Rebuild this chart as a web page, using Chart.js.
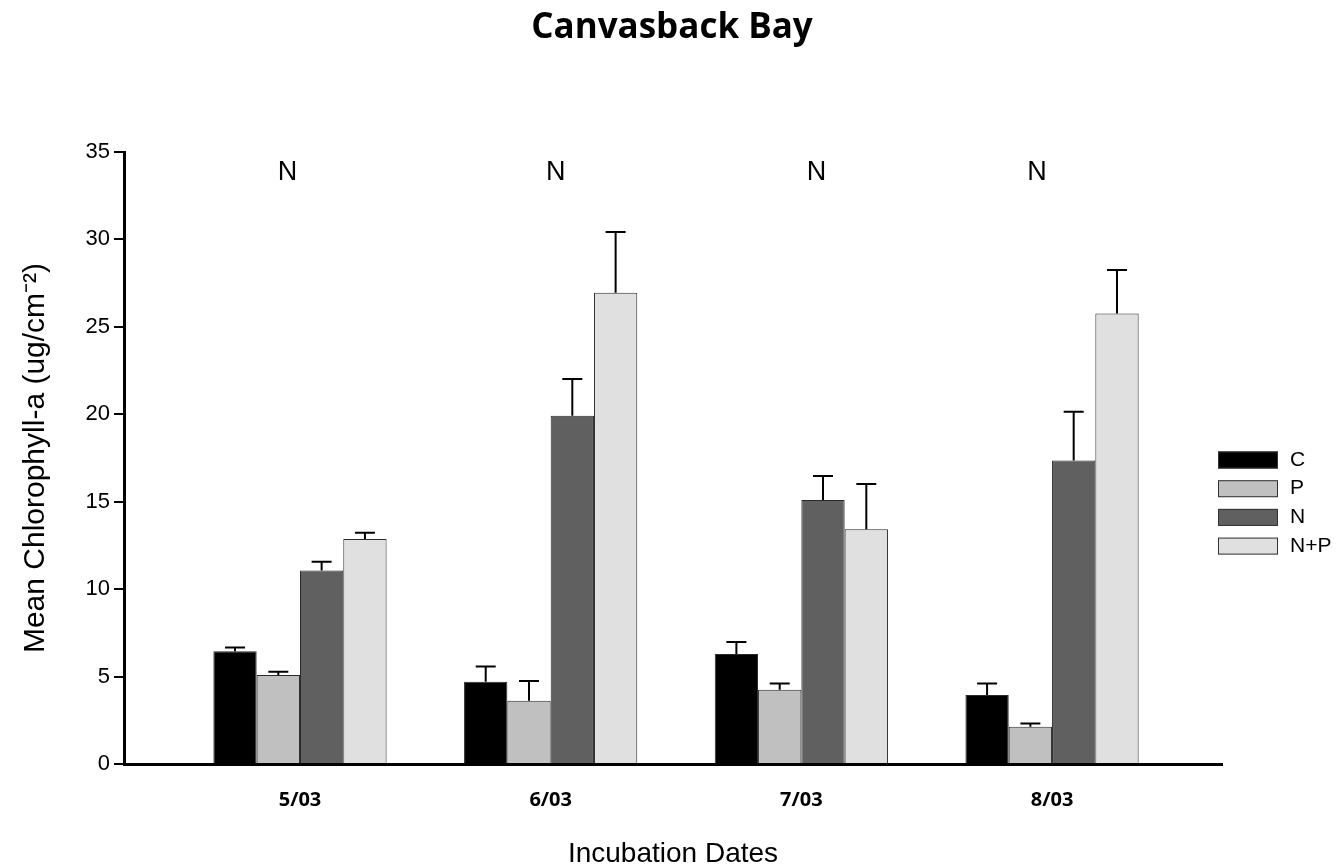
<!DOCTYPE html>
<html>
<head>
<meta charset="utf-8">
<script src="https://cdn.jsdelivr.net/npm/chart.js@4/dist/chart.umd.min.js"></script>
<style>
html,body{margin:0;padding:0;background:#fff;}
#wrap{width:1344px;height:868px;}
</style>
</head>
<body>
<div id="wrap"><canvas id="c" width="1344" height="868"></canvas></div>
<script>
// ---- data ----
const categories = ['5/03', '6/03', '7/03', '8/03'];
const seriesNames = ['C', 'P', 'N', 'N+P'];
const valuesC  = [6.45, 4.71, 6.29, 3.95];
const valuesP  = [5.09, 3.62, 4.25, 2.13];
const valuesN  = [11.06, 19.92, 15.10, 17.35];
const valuesNP = [12.87, 26.95, 13.42, 25.77];
const errC  = [0.21, 0.86, 0.69, 0.66];
const errP  = [0.19, 1.13, 0.36, 0.19];
const errN  = [0.50, 2.10, 1.37, 2.79];
const errNP = [0.35, 3.47, 2.59, 2.48];
const yTicks = [0, 5, 10, 15, 20, 25, 30, 35];
const sigLabels = ['N', 'N', 'N', 'N'];
const sigX = [-0.05, 1.02, 2.06, 2.94];
const sigY = 33.85;

const colors = ['#000000', '#c0c0c0', '#606060', '#e0e0e0'];
const allValues = [valuesC, valuesP, valuesN, valuesNP];
const allErr = [errC, errP, errN, errNP];

const datasets = seriesNames.map((name, s) => ({
  label: name,
  data: allValues[s].map((v, i) => ({x: i, y: v})),
  err: allErr[s],
  backgroundColor: colors[s],
  borderColor: '#2a2a2a',
  borderWidth: 1,
  categoryPercentage: 0.691,
  barPercentage: 1.0
}));

const errorBars = {
  id: 'errorBars',
  afterDatasetsDraw(chart) {
    const ctx = chart.ctx;
    const y = chart.scales.y;
    ctx.save();
    ctx.strokeStyle = '#000';
    ctx.lineWidth = 2;
    chart.data.datasets.forEach((ds, di) => {
      const meta = chart.getDatasetMeta(di);
      meta.data.forEach((bar, i) => {
        const v = ds.data[i].y, e = ds.err[i];
        const yt = y.getPixelForValue(v + e);
        const yb = y.getPixelForValue(v);
        ctx.beginPath();
        ctx.moveTo(bar.x, yb);
        ctx.lineTo(bar.x, yt);
        ctx.moveTo(bar.x - 10, yt);
        ctx.lineTo(bar.x + 10, yt);
        ctx.stroke();
      });
    });
    ctx.restore();
  }
};

const annotations = {
  id: 'annotations',
  afterDraw(chart) {
    const ctx = chart.ctx;
    const xs = chart.scales.x, ys = chart.scales.y;
    ctx.save();
    ctx.fillStyle = '#000';
    ctx.font = '27px "Liberation Sans", Arial, sans-serif';
    ctx.textAlign = 'center';
    ctx.textBaseline = 'middle';
    sigLabels.forEach((t, i) => {
      ctx.fillText(t, xs.getPixelForValue(sigX[i]), ys.getPixelForValue(sigY));
    });
    // legend
    ctx.font = '21px "Liberation Sans", Arial, sans-serif';
    ctx.textAlign = 'left';
    chart.data.datasets.forEach((ds, i) => {
      const cy = 460 + i * 28.7;
      ctx.fillStyle = ds.backgroundColor;
      ctx.fillRect(1218, cy - 8.5, 60, 17);
      ctx.strokeStyle = '#333';
      ctx.lineWidth = 1;
      ctx.strokeRect(1218.5, cy - 8, 59, 16);
      ctx.fillStyle = '#000';
      ctx.fillText(ds.label, 1290, cy);
    });
    ctx.restore();
  }
};

new Chart(document.getElementById('c'), {
  type: 'bar',
  data: { datasets },
  options: {
    responsive: false,
    animation: false,
    layout: { padding: { left: 0, right: 0, top: 0, bottom: 0 } },
    plugins: {
      legend: { display: false },
      tooltip: { enabled: false },
      title: {
        display: true,
        text: 'Canvasback Bay',
        color: '#000',
        font: { family: '"Open Sans", sans-serif', size: 35, weight: 'bold', lineHeight: 1.2 },
        padding: { top: 7, bottom: 103 }
      }
    },
    scales: {
      x: {
        type: 'linear',
        offset: false,
        min: -0.702,
        max: 3.678,
        grid: { display: false, drawTicks: false, offset: false },
        border: { display: true, color: '#000', width: 3 },
        afterFit(scale) { scale.height = 104; },
        afterBuildTicks(scale) {
          scale.ticks = categories.map((c, i) => ({ value: i }));
        },
        ticks: {
          padding: 24,
          color: '#000',
          font: { family: '"Open Sans", sans-serif', size: 20, weight: 'bold' },
          callback: (v) => categories[v] !== undefined ? categories[v] : ''
        },
        title: {
          display: true,
          text: 'Incubation Dates',
          color: '#000',
          font: { family: '"Liberation Sans", Arial, sans-serif', size: 28, lineHeight: 1 },
          padding: { top: 0, bottom: 0 }
        }
      },
      y: {
        min: 0,
        max: 35,
        afterFit(scale) { scale.width = 124; },
        afterBuildTicks(scale) {
          scale.ticks = yTicks.map(v => ({ value: v }));
        },
        grid: { drawOnChartArea: false, drawTicks: true, tickLength: 10, color: '#000', lineWidth: 2 },
        border: { display: true, color: '#000', width: 3 },
        ticks: {
          padding: 4,
          color: '#000',
          font: { family: '"Liberation Sans", Arial, sans-serif', size: 22 }
        },
        title: {
          display: true,
          text: 'Mean Chlorophyll-a (ug/cm\u207B\u00B2)',
          color: '#000',
          font: { family: '"Liberation Sans", Arial, sans-serif', size: 30, lineHeight: 1 },
          padding: { top: 21, bottom: 0 }
        }
      },
      yRightSpace: {
        type: 'linear',
        position: 'right',
        min: 0,
        max: 35,
        display: true,
        afterFit(scale) { scale.width = 122; },
        grid: { display: false, drawTicks: false },
        border: { display: false },
        ticks: { display: false },
        title: { display: false }
      }
    }
  },
  plugins: [errorBars, annotations]
});
</script>
</body>
</html>
